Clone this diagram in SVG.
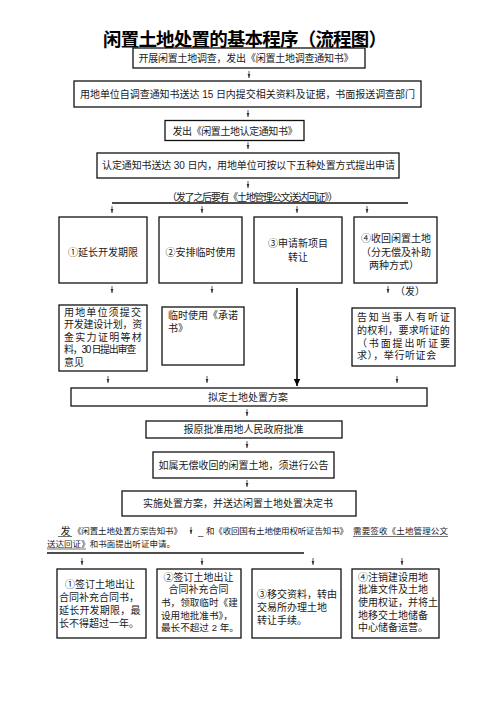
<svg xmlns="http://www.w3.org/2000/svg" width="496" height="702" viewBox="0 0 496 702">
<style>
.bx{fill:#fff;stroke:#111;stroke-width:1.3}
.t{font-family:"Liberation Sans","Noto Sans CJK SC",sans-serif;font-size:10px;fill:#1a1a1a}
.m{text-anchor:middle}
.s{font-size:8.5px}
.sa{stroke:#333;stroke-width:0.8;fill:none;marker-end:url(#ah)}
.hl{stroke:#111;stroke-width:1.3;fill:none}
.ul{stroke:#333;stroke-width:0.7;fill:none}
</style>
<defs>
<marker id="ah" markerWidth="4" markerHeight="4" refX="4" refY="2" orient="auto" markerUnits="userSpaceOnUse"><path d="M0,0.6 L4,2 L0,3.4 z" fill="#333"/></marker>
<marker id="bh" markerWidth="8" markerHeight="8" refX="7" refY="4" orient="auto" markerUnits="userSpaceOnUse"><path d="M0,0.8 L7,4 L0,7.2 z" fill="#000"/></marker>
</defs>
<rect width="496" height="702" fill="#fff"/>
<g id="title"><text x="245" y="45.5" class="m" font-family="'Noto Sans CJK SC',sans-serif" font-weight="bold" font-size="18.5" textLength="284" fill="#000">闲置土地处置的基本程序（流程图）</text></g>

<g id="connectors">
<path class="sa" d="M249,71 V78"/>
<path class="sa" d="M248,110 V117"/>
<path class="sa" d="M248,142 V149"/>
<path class="sa" d="M248,181 V188"/>
<path class="hl" d="M112,203 H408"/>
<path class="sa" d="M112,206 V213"/>
<path class="sa" d="M202,206 V213"/>
<path class="sa" d="M297,206 V213"/>
<path class="sa" d="M367,206 V213"/>
<path class="sa" d="M112,286 V293"/>
<path class="sa" d="M212,286 V293"/>
<path class="sa" d="M388,286 V293"/>
<path d="M297,288 V386" stroke="#000" stroke-width="1.5" fill="none" marker-end="url(#bh)"/>
<path class="sa" d="M108,376 V383"/>
<path class="sa" d="M207,376 V383"/>
<path class="sa" d="M397,376 V383"/>
<path class="sa" d="M247,409 V416"/>
<path class="sa" d="M247,441 V448"/>
<path class="sa" d="M247,480 V487"/>
<path class="sa" d="M191,527 V534"/>
<path class="hl" d="M47,553 H304" stroke-width="1.5"/>
<path class="sa" d="M82,558 V565"/>
<path class="sa" d="M202,558 V565"/>
<path class="sa" d="M313,558 V565"/>
<path class="sa" d="M402,558 V565"/>
</g>

<g id="n1"><rect class="bx" x="133" y="48" width="232" height="20"/><text class="t m" x="246" y="61.5" textLength="215">开展闲置土地调查，发出《闲置土地调查通知书》</text></g>
<g id="n2"><rect class="bx" x="74" y="81" width="347" height="26"/><text class="t m" x="247.5" y="98" textLength="335" font-size="10.5">用地单位自调查通知书送达 15 日内提交相关资料及证据，书面报送调查部门</text></g>
<g id="n3"><rect class="bx" x="165" y="120.5" width="139" height="20"/><text class="t m" x="235" y="134.5" textLength="125">发出《闲置土地认定通知书》</text></g>
<g id="n4"><rect class="bx" x="97" y="153" width="302" height="25"/><text class="t m" x="248.5" y="169" textLength="293">认定通知书送达 30 日内，用地单位可按以下五种处置方式提出申请</text></g>
<g id="note1"><text class="t m" x="252.5" y="200.5" font-size="9.5" textLength="171">（发了之后要有《土地管理公文送达回证》）</text></g>

<g id="a1"><rect class="bx" x="59" y="217" width="88" height="66"/><text class="t m" x="103" y="255.5">①延长开发期限</text></g>
<g id="a2"><rect class="bx" x="159" y="217" width="83" height="66"/><text class="t m" x="200.5" y="255.5">②安排临时使用</text></g>
<g id="a3"><rect class="bx" x="254" y="217" width="88" height="66"/><text class="t m"><tspan x="298" y="246.5">③申请新项目</tspan><tspan x="298" y="260.5">转让</tspan></text></g>
<g id="a4"><rect class="bx" x="354" y="217" width="83" height="66"/><text class="t m"><tspan x="396" y="241.5">④收回闲置土地</tspan><tspan x="396" y="255.5">（分无偿及补助</tspan><tspan x="394" y="268.5">两种方式）</tspan></text></g>
<g id="note2"><text class="t" x="395" y="294.5" font-size="9">（发）</text></g>

<g id="b1"><rect class="bx" x="59" y="305" width="88" height="66"/>
<text class="t"><tspan x="64" y="315.5" letter-spacing="1.15">用地单位须提交</tspan><tspan x="64" y="328" letter-spacing="-0.25">开发建设计划，资</tspan><tspan x="64" y="340.5" letter-spacing="1.3">金实力证明等材</tspan><tspan x="64" y="353" letter-spacing="-1.3">料，30 日提出审查</tspan><tspan x="64" y="365.5">意见</tspan></text></g>
<g id="b2"><rect class="bx" x="162" y="307" width="82" height="58"/><text class="t"><tspan x="168" y="318.5">临时使用《承诺</tspan><tspan x="168" y="332">书》</tspan></text></g>
<g id="b4"><rect class="bx" x="352" y="308" width="103" height="58"/>
<text class="t"><tspan x="357" y="321" letter-spacing="1.85">告知当事人有听证</tspan><tspan x="357" y="334" letter-spacing="0.35">的权利，要求听证的</tspan><tspan x="357" y="347" letter-spacing="1.85">（书面提出听证要</tspan><tspan x="357" y="359" letter-spacing="0.6">求），举行听证会</tspan></text></g>

<g id="c1"><rect class="bx" x="71" y="388" width="356" height="18"/><text class="t m" x="248" y="400.8">拟定土地处置方案</text></g>
<g id="c2"><rect class="bx" x="146" y="421" width="196" height="17"/><text class="t m" x="243.5" y="433">报原批准用地人民政府批准</text></g>
<g id="c3"><rect class="bx" x="153" y="452" width="181" height="26"/><text class="t m" x="243.5" y="468.8">如属无偿收回的闲置土地，须进行公告</text></g>
<g id="c4"><rect class="bx" x="122" y="491" width="234" height="25"/><text class="t m" x="238" y="507">实施处置方案，并送达闲置土地处置决定书</text></g>

<g id="note3">
<text class="t" x="60.5" y="534.5" font-size="11">发</text>
<path class="ul" d="M58,536.5 H72"/>
<text class="t s" x="73" y="534" textLength="109">《闲置土地处置方案告知书》</text>
<path class="ul" d="M198,536.5 H203.5"/>
<text class="t s" x="206" y="534" textLength="142">和《收回国有土地使用权听证告知书》</text>
<text class="t s" x="353" y="534" textLength="95">需要签收《土地管理公文</text>
<path class="ul" d="M353,536.5 H448"/>
<text class="t s" x="47" y="547" textLength="128">送达回证》和书面提出听证申请。</text>
<path class="ul" d="M47,549 H86"/>
</g>

<g id="d1"><rect class="bx" x="57" y="569" width="89" height="69"/>
<text class="t" font-size="10.2"><tspan x="65" y="587.5">①签订土地出让</tspan><tspan x="59" y="600.5">合同补充合同书，</tspan><tspan x="59" y="613.5" letter-spacing="0.2">延长开发期限，最</tspan><tspan x="59" y="626.5">长不得超过一年。</tspan></text></g>
<g id="d2"><rect class="bx" x="157" y="569" width="84" height="69"/>
<text class="t"><tspan x="198.5" y="580.5" text-anchor="middle">②签订土地出让</tspan><tspan x="198.5" y="593.2" text-anchor="middle">合同补充合同</tspan><tspan x="161" y="605.9" font-size="9.6">书，领取临时《建</tspan><tspan x="161" y="618.6" font-size="9.6">设用地批准书》，</tspan><tspan x="161" y="631.3" font-size="9.6">最长不超过 2 年。</tspan></text></g>
<g id="d3"><rect class="bx" x="252" y="569" width="89" height="69"/>
<text class="t"><tspan x="257" y="597.5">③移交资料，转由</tspan><tspan x="257" y="610.5">交易所办理土地</tspan><tspan x="257" y="623.5">转让手续。</tspan></text></g>
<g id="d4"><rect class="bx" x="352" y="569" width="87" height="69"/>
<text class="t"><tspan x="358" y="580.5">④注销建设用地</tspan><tspan x="358" y="593.2">批准文件及土地</tspan><tspan x="358" y="605.9">使用权证，并将土</tspan><tspan x="358" y="618.6">地移交土地储备</tspan><tspan x="358" y="631.3">中心储备运营。</tspan></text></g>
</svg>
